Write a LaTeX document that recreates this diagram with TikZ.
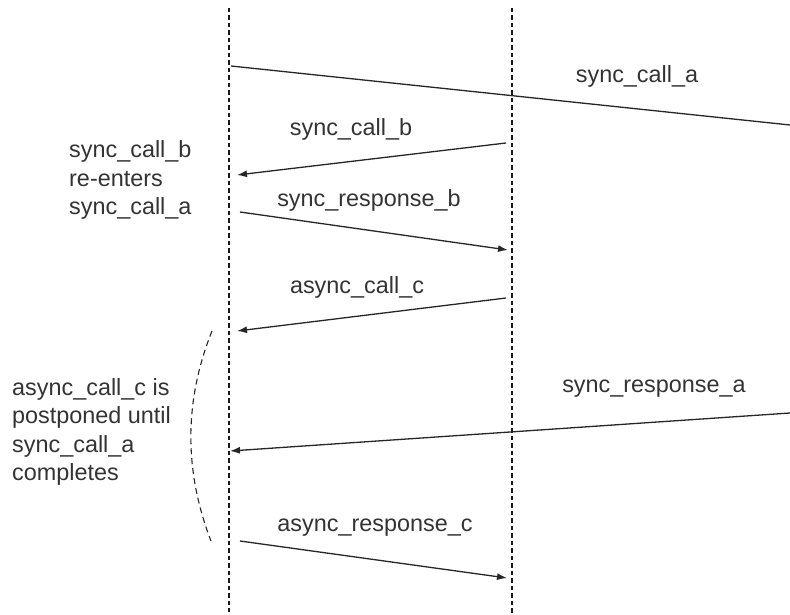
\documentclass[tikz,border=0pt]{standalone}
\usepackage{fontspec}
\setmainfont{Liberation Sans}
\usetikzlibrary{arrows.meta}
\begin{document}
\begin{tikzpicture}[x=1pt,y=-1pt,
  lifeline/.style={draw=black!90, line width=1.3pt, dash pattern=on 4.5pt off 3pt},
  msg/.style={draw=black!85, line width=1.3pt},
  msgarrow/.style={msg, -{Latex[length=10pt,width=7pt]}},
  lbl/.style={text=black!80, font=\fontsize{23.4}{28.5}\selectfont, inner sep=0pt},
  note/.style={lbl, align=left, anchor=west},
  bracket/.style={draw=black!85, line width=1.1pt, dash pattern=on 6pt off 4pt}]
\useasboundingbox (0,0) rectangle (790,615);
% lifelines
\coordinate (Ltop) at (229,8);
\coordinate (Lbot) at (229,612);
\coordinate (Rtop) at (512,8);
\coordinate (Rbot) at (512,614);
\draw[lifeline] (Ltop) -- (Lbot);
\draw[lifeline] (Rtop) -- (Rbot);
% message end points
\coordinate (a1s) at (231,66);
\coordinate (a1e) at (790,125);
\coordinate (b1s) at (506,143);
\coordinate (b1e) at (237,175);
\coordinate (b2s) at (240,212);
\coordinate (b2e) at (508,250);
\coordinate (c1s) at (506,298);
\coordinate (c1e) at (237,331);
\coordinate (a2s) at (790,413);
\coordinate (a2e) at (230,451);
\coordinate (c2s) at (240,541);
\coordinate (c2e) at (507,578);
% messages
\draw[msg] (a1s) -- (a1e);
\draw[msgarrow] (b1s) -- (b1e);
\draw[msgarrow] (b2s) -- (b2e);
\draw[msgarrow] (c1s) -- (c1e);
\draw[msgarrow] (a2s) -- (a2e);
\draw[msgarrow] (c2s) -- (c2e);
% labels
\node[lbl] (la1) at (637,76) {sync\_call\_a};
\node[lbl] (lb1) at (351,129) {sync\_call\_b};
\node[lbl] (lb2) at (369,200) {sync\_response\_b};
\node[lbl] (lc1) at (357,287) {async\_call\_c};
\node[lbl] (la2) at (654,389) {sync\_response\_a};
\node[lbl] (lc2) at (375,528) {async\_response\_c};
% notes
\node[note] (n1) at (69,180) {sync\_call\_b\\re-enters\\sync\_call\_a};
\node[note] (n2) at (12,432) {async\_call\_c is\\postponed until\\sync\_call\_a\\completes};
% bracket
\coordinate (bt) at (212,331);
\coordinate (bb) at (211,541);
\draw[bracket] (bt) .. controls (184,401) and (184,471) .. (bb);
\end{tikzpicture}
\end{document}
